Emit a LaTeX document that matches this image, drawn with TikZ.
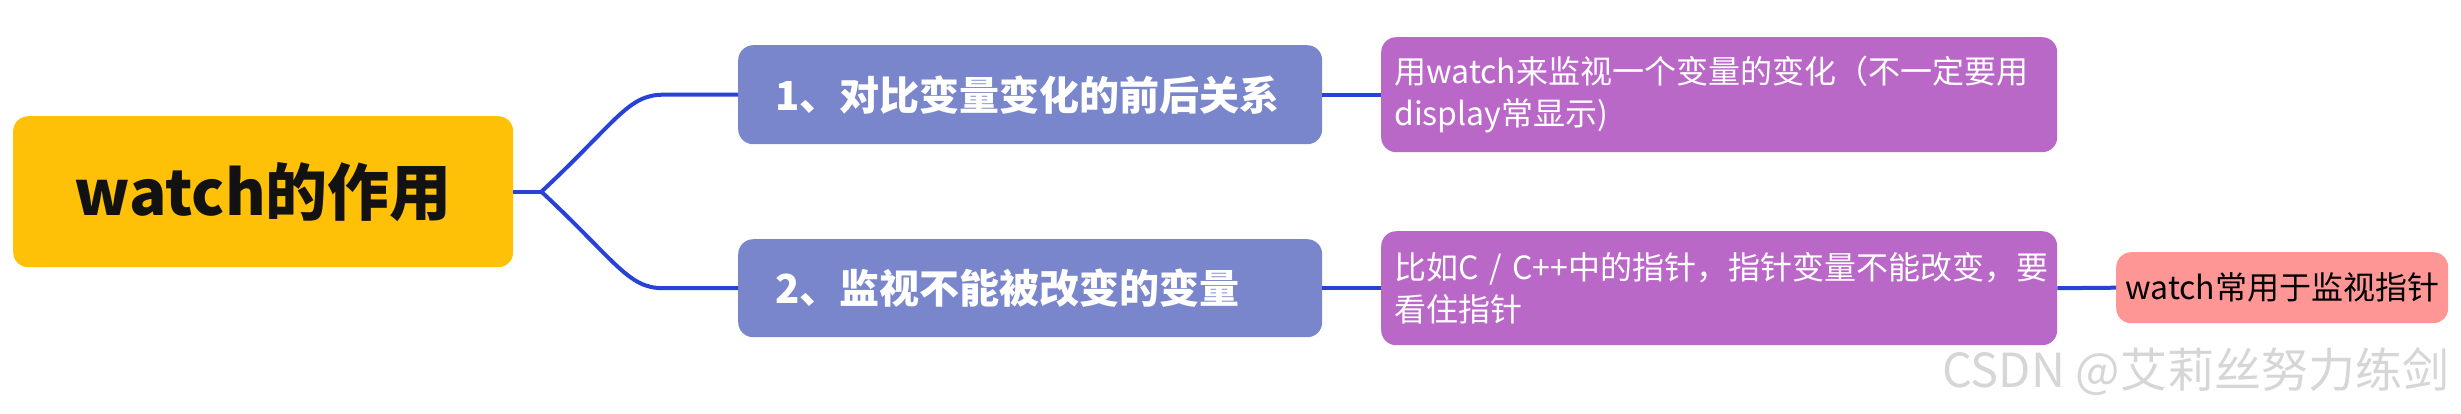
\documentclass[tikz,border=0pt]{standalone}
\usepackage{fontspec}
\setmainfont{Noto Sans CJK SC}
\usepackage{xcolor}
\usepackage{tikz}

\definecolor{rootyellow}{RGB}{255,193,7}
\definecolor{topicblue}{RGB}{121,134,203}
\definecolor{notepurple}{RGB}{186,104,200}
\definecolor{tippink}{RGB}{255,150,150}
\definecolor{linkblue}{RGB}{40,66,216}
\definecolor{markgray}{RGB}{214,214,214}

\begin{document}
\begin{tikzpicture}[x=1pt,y=1pt,yscale=-1,xscale=1,
  box/.style={rounded corners=15pt,inner sep=0pt,anchor=north west},
  rootbox/.style={box,fill=rootyellow,minimum width=500pt,minimum height=151pt,text=black!93,font=\fontsize{62}{70}\selectfont\bfseries},
  topicbox/.style={box,fill=topicblue,text width=510pt,inner xsep=37pt,minimum height=99pt,align=left,text=white,font=\fontsize{40}{48}\selectfont\bfseries},
  notebox/.style={box,fill=notepurple,text width=650pt,inner xsep=13pt,minimum height=115pt,align=left,text=white,font=\fontsize{32}{42}\selectfont},
  tipbox/.style={box,fill=tippink,minimum width=332pt,minimum height=71pt,text=black,font=\fontsize{32}{38}\selectfont},
  link/.style={draw=linkblue,line width=4pt}
]

\useasboundingbox (0,0) rectangle (2461,413);

\draw (13,116) node [rootbox] (root) {watch的作用};

\draw (738,45) node [topicbox] (topic1) {1、对比变量变化的前后关系};

\draw (738,239) node [topicbox,minimum height=98pt] (topic2) {2、监视不能被改变的变量};

\draw (1381,37) node [notebox] (note1) {用watch来监视一个变量的变化（不一定要用\\display常显示)};

\draw (1381,231) node [notebox,minimum height=114pt] (note2) {比如C / C++中的指针，指针变量不能改变，要\\看住指针};

\draw (2116,252) node [tipbox] (tip) {watch常用于监视指针};

\draw (1942,372) node [anchor=west,inner sep=0pt,text=markgray,font=\fontsize{47}{50}\selectfont] (mark) {CSDN @艾莉丝努力练剑};

% branches
\coordinate (fork) at ([xshift=28pt]root.east);

\draw [link] (root.east) -- (fork);

\draw [link] (fork) .. controls +(75,-70) and +(-35,0) .. ([xshift=-75pt]topic1.west) -- (topic1.west);

\draw [link] (fork) .. controls +(75,70) and +(-35,0) .. ([xshift=-75pt]topic2.west) -- (topic2.west);

\draw [link] (topic1.east) -- (note1.west);

\draw [link] (topic2.east) -- (note2.west);

\draw [link] (note2.east) -- (tip.west);

\end{tikzpicture}
\end{document}
